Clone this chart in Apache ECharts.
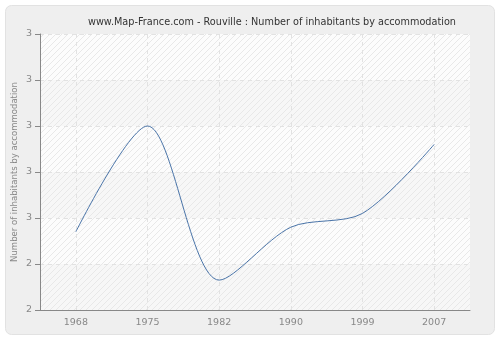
<!DOCTYPE html>
<html><head><meta charset="utf-8">
<script src="https://cdn.jsdelivr.net/npm/echarts@6/dist/echarts.min.js"></script>
<style>html,body{margin:0;padding:0;background:#fff}#c{width:500px;height:340px}</style>
</head><body><div id="c"></div>
<script>
const years = ['1968','1975','1982','1990','1999','2007'];
const values = [2.57, 2.80, 2.465, 2.58, 2.61, 2.76];
const yTickLabels = ['2','2','3','3','3','3','3'];
const titleText = 'www.Map-France.com - Rouville : Number of inhabitants by accommodation';
const yName = 'Number of inhabitants by accommodation';

function hatch(bg){
  const c = document.createElement('canvas'); c.width = 6; c.height = 6;
  const g = c.getContext('2d');
  g.fillStyle = bg; g.fillRect(0,0,6,6);
  g.strokeStyle = '#e8e8e8'; g.lineWidth = 1;
  g.beginPath(); g.moveTo(0,6); g.lineTo(6,0); g.moveTo(-1,1); g.lineTo(1,-1); g.moveTo(5,7); g.lineTo(7,5); g.stroke();
  return {image: c, repeat: 'repeat'};
}

const chart = echarts.init(document.getElementById('c'), null, {renderer:'canvas'});
chart.setOption({
  animation: false,
  backgroundColor: '#fff',
  graphic: [{type:'rect', z:-10, shape:{x:5.5,y:5.5,width:489,height:329,r:6}, style:{fill:'#efefef', stroke:'#e2e2e2', lineWidth:1}}],
  title: {text: titleText, left: 267, top: 12, textAlign:'center', textStyle:{fontFamily:'DejaVu Sans', fontSize:9.7, fontWeight:'normal', color:'#333'}},
  grid: {left: 40, right: 30, top: 34, bottom: 30, show: true, backgroundColor:'#fbfbfb', borderWidth:0, containLabel:false, outerBoundsMode:'none'},
  xAxis: {type:'category', data: years, boundaryGap: true,
    axisLine:{lineStyle:{color:'#888'}},
    axisTick:{alignWithLabel:true, length:5, lineStyle:{color:'#888'}},
    axisLabel:{color:'#888', fontFamily:'DejaVu Sans', fontSize:9.5, margin:8},
    splitLine:{show:true, alignWithLabel:true, lineStyle:{color:'#e2e2e2', type:[4,4]}}},
  yAxis: {type:'value', min:2.4, max:3.0, interval:0.1,
    name: yName, nameLocation:'middle', nameGap:21, nameMoveOverlap:false, nameTextStyle:{color:'#888', fontFamily:'DejaVu Sans', fontSize:8.5},
    axisLine:{show:true, lineStyle:{color:'#888'}},
    axisTick:{show:true, length:5, lineStyle:{color:'#888'}},
    axisLabel:{color:'#888', fontFamily:'DejaVu Sans', fontSize:9.5, margin:8, formatter:(v,i)=>yTickLabels[i]},
    splitLine:{show:true, lineStyle:{color:'#e2e2e2', type:[4,4]}},
    splitArea:{show:true, areaStyle:{color:[hatch('#f7f7f7'), hatch('#fcfcfc')]}}},
  series: [{type:'line', data: values, smooth: 0.3, symbol:'none', lineStyle:{color:'#4a74a8', width:1}}]
});
</script></body></html>
